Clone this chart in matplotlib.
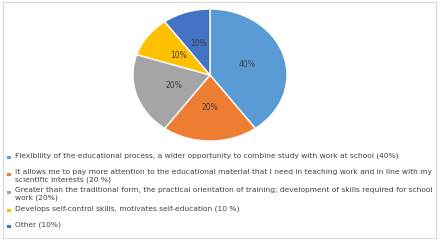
import matplotlib

matplotlib.use("Agg")
import matplotlib.pyplot as plt
import numpy as np
from matplotlib.patches import Rectangle

# data
shares = [40, 20, 20, 10, 10]
pct_labels = ["40%", "20%", "20%", "10%", "10%"]
legend_labels = [
    "Flexibility of the educational process, a wider opportunity to combine study with work at school (40%)",
    "It allows me to pay more attention to the educational material that I need in teaching work and in line with my\nscientific interests (20 %)",
    "Greater than the traditional form, the practical orientation of training; development of skills required for school\nwork (20%)",
    "Develops self-control skills, motivates self-education (10 %)",
    "Other (10%)",
]
colors = ["#5B9BD5", "#ED7D31", "#A5A5A5", "#FFC000", "#4472C4"]

W, H = 443, 244
fig = plt.figure(figsize=(W / 100, H / 100), dpi=100)

# outer frame
bg = fig.add_axes([0, 0, 1, 1])
bg.set_xlim(0, W)
bg.set_ylim(H, 0)
bg.axis("off")
bg.add_patch(Rectangle((3, 2), 433, 236, fill=False, edgecolor="#d9d9d9", lw=0.8))

# pie (slightly squashed like the original)
ax = fig.add_axes([133 / W, 1 - 141 / H, 154 / W, 132 / H])
wedges, _ = ax.pie(
    shares,
    colors=colors,
    startangle=90,
    counterclock=False,
    wedgeprops=dict(edgecolor="white", linewidth=1),
)
for w, lab in zip(wedges, pct_labels):
    ang = np.deg2rad((w.theta1 + w.theta2) / 2)
    ax.text(0.5 * np.cos(ang), 0.5 * np.sin(ang), lab, ha="center", va="center",
            fontsize=5.5, color="#404040")
ax.set_xlim(-1.0, 1.0)
ax.set_ylim(-1.0, 1.0)
ax.set_aspect("auto")

# legend, one entry at a time
rows_y = [157, 174, 192, 210, 226]
for y, lab, c in zip(rows_y, legend_labels, colors):
    bg.add_patch(Rectangle((7.5, y - 1.5), 3.2, 3.2, color=c, lw=0))
    bg.text(15, y - 4.6, lab, fontsize=5.4, color="#404040", va="top", ha="left",
            linespacing=1.2)

fig.savefig("out.png", dpi=100)
